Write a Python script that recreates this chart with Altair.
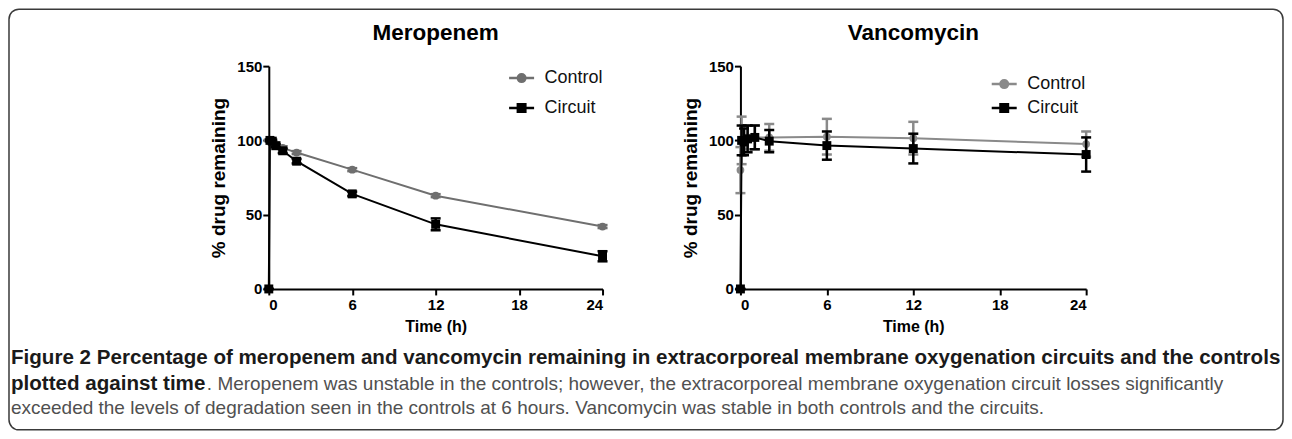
import altair as alt
import pandas as pd

# ---------------- data ----------------
SERIES = ["Control", "Circuit"]
X_TICKS = [0, 6, 12, 18, 24]
Y_TICKS = [0, 50, 100, 150]

mero_ctrl_t = [0, 0.5, 1, 2, 6, 12, 24]
mero_ctrl_v = [100, 97.5, 95, 91.8, 80.3, 62.8, 42]
mero_ctrl_e = [0.5, 1, 1, 1, 1, 1, 1]

mero_circ_t = [0, 0.083, 0.25, 0.5, 1, 2, 6, 12, 24]
mero_circ_v = [0, 100, 99.5, 96.4, 93, 86, 64, 43.5, 22]
mero_circ_e = [0, 0.5, 1, 1, 1.5, 1.5, 1.5, 4, 3.4]

vanc_ctrl_t = [0, 0.083, 0.25, 0.5, 1, 2, 6, 12, 24]
vanc_ctrl_v = [80, 100, 101, 102, 102, 102, 102.5, 101.5, 97.5]
vanc_ctrl_e = [15.5, 16, 9, 8, 8, 9, 12, 11, 8.5]

vanc_circ_t = [0, 0.083, 0.25, 0.5, 1, 2, 6, 12, 24]
vanc_circ_v = [0, 100, 99, 101, 102, 99.5, 96.5, 94.5, 90.5]
vanc_circ_e = [0, 10, 9, 9, 8, 7.5, 9.5, 10, 11.5]

CAP1 = ("Figure 2 Percentage of meropenem and vancomycin remaining in extracorporeal "
        "membrane oxygenation circuits and the controls")
CAP2B = "plotted against time"
CAP2 = (". Meropenem was unstable in the controls; however, the extracorporeal membrane "
        "oxygenation circuit losses significantly")
CAP3 = ("exceeded the levels of degradation seen in the controls at 6 hours. Vancomycin "
        "was stable in both controls and the circuits.")

# ---------------- styling ----------------
FONT = "Liberation Sans"
CAP_FONT = "Liberation Sans"
CIRCLE_PATH = "M-1,0H1M-0.3,0A0.3,0.3 0 1,1 0.3,0A0.3,0.3 0 1,1 -0.3,0Z"
SQUARE_PATH = "M-1,0H1M-0.3,-0.3H0.3V0.3H-0.3Z"
PLOT_H = 223


def series_df(t, v, e, name):
    return pd.DataFrame({
        "t": t, "v": v,
        "lo": [a - b for a, b in zip(v, e)],
        "hi": [a + b for a, b in zip(v, e)],
        "series": name,
    })


def xenc():
    return alt.X("t:Q", scale=alt.Scale(domain=[0, 24], nice=False, zero=False),
                 axis=alt.Axis(values=X_TICKS, title="Time (h)", format="d"))


def yenc(field):
    return alt.Y(field, scale=alt.Scale(domain=[0, 150], nice=False),
                 axis=alt.Axis(values=Y_TICKS, title="% drug remaining", format="d"))


def series_layers(df, color, shape, size):
    rule = alt.Chart(df).mark_rule(color=color, strokeWidth=2.5).encode(
        x=xenc(), y=yenc("lo:Q"), y2="hi:Q")
    cap_hi = alt.Chart(df).mark_tick(orient="horizontal", color=color, size=10,
                                     thickness=2.5, opacity=1).encode(x=xenc(), y=yenc("hi:Q"))
    cap_lo = alt.Chart(df).mark_tick(orient="horizontal", color=color, size=10,
                                     thickness=2.5, opacity=1).encode(x=xenc(), y=yenc("lo:Q"))
    line = alt.Chart(df).mark_line(color=color, strokeWidth=2).encode(
        x=xenc(), y=yenc("v:Q"), order="t:Q")
    pts = alt.Chart(df).mark_point(shape=shape, filled=True, size=size, color=color,
                                   opacity=1).encode(x=xenc(), y=yenc("v:Q"))
    return [rule, cap_hi, cap_lo, line, pts]


def legend_layer(ctrl_color, lx, ly, row_pad):
    leg_df = pd.DataFrame({"series": SERIES, "t": [-1, -1], "v": [0, 0]})
    leg = alt.Legend(title=None, orient="none", legendX=lx, legendY=ly, padding=0,
                     symbolSize=625, symbolStrokeWidth=2.5, labelFont=FONT,
                     labelFontSize=18, labelColor="#111111", labelOffset=9,
                     rowPadding=row_pad)
    return alt.Chart(leg_df).transform_filter("datum.t >= 0").mark_point(
        filled=True, opacity=1, strokeWidth=2.5).encode(
        fill=alt.Fill("series:N", scale=alt.Scale(domain=SERIES, range=[ctrl_color, "#000000"]), legend=leg),
        stroke=alt.Stroke("series:N", scale=alt.Scale(domain=SERIES, range=[ctrl_color, "#000000"]), legend=leg),
        shape=alt.Shape("series:N", scale=alt.Scale(domain=SERIES, range=[CIRCLE_PATH, SQUARE_PATH]), legend=leg),
    )


def panel(title, ctrl, circ, ctrl_color, lx, ly, row_pad, width):
    layers = []
    layers += series_layers(ctrl, ctrl_color, "circle", 60)
    layers += series_layers(circ, "#000000", "square", 80)
    layers.append(legend_layer(ctrl_color, lx, ly, row_pad))
    return alt.layer(*layers).properties(
        width=width, height=PLOT_H,
        title=alt.TitleParams(title, font=FONT, fontSize=22.5, fontWeight="bold",
                              color="#000000", anchor="middle", offset=15),
    ).resolve_scale(fill="independent", stroke="independent", shape="independent")


# ---------------- caption + frame (decoration column) ----------------
cap_df = pd.DataFrame({"k": [0]})


def cap_text(txt, x, y, bold, color, size):
    return alt.Chart(cap_df).mark_text(
        align="left", baseline="middle", font=CAP_FONT, fontSize=size,
        fontWeight="bold" if bold else "normal", color=color).encode(
        x=alt.value(x), y=alt.value(y), text=alt.value(txt))


border = alt.Chart(cap_df).mark_rect(filled=False, color="#3a3a3a", strokeWidth=1.5,
                                     cornerRadius=10).encode(
    x=alt.value(0), x2=alt.value(1275), y=alt.value(-57), y2=alt.value(364))

deco = alt.layer(
    border,
    cap_text(CAP1, 2, 292, True, "#1a1a1a", 20.6),
    cap_text(CAP2B, 2, 318, True, "#1a1a1a", 20.6),
    cap_text(CAP2, 198, 318, False, "#505050", 19.0),
    cap_text(CAP3, 2, 342, False, "#505050", 19.0),
).properties(width=122, height=PLOT_H)

left = panel("Meropenem",
             series_df(mero_ctrl_t, mero_ctrl_v, mero_ctrl_e, "Control"),
             series_df(mero_circ_t, mero_circ_v, mero_circ_e, "Circuit"),
             "#6f6f6f", 239, -2, 7, 334)

right = panel("Vancomycin",
              series_df(vanc_ctrl_t, vanc_ctrl_v, vanc_ctrl_e, "Control"),
              series_df(vanc_circ_t, vanc_circ_v, vanc_circ_e, "Circuit"),
              "#8a8a8a", 250, 4, 1, 346)

chart = alt.hconcat(deco, left, right, spacing=138, bounds="flush").resolve_scale(
    x="independent", y="independent", fill="independent", stroke="independent",
    shape="independent").resolve_legend(
    fill="independent", stroke="independent", shape="independent").properties(
    padding={"left": 0, "top": 0, "right": 0, "bottom": 0}
).configure_view(strokeWidth=0).configure_axis(
    domainColor="#000000", domainWidth=2, tickColor="#000000", tickWidth=2, tickSize=6,
    labelFont=FONT, labelFontSize=15, labelFontWeight="bold", labelColor="#000000",
    labelPadding=1, titleFont=FONT, titleFontSize=16, titleFontWeight="bold",
    titleColor="#000000", grid=False,
).configure_axisY(titlePadding=8, titleFontSize=19).configure_axisX(titlePadding=6, labelPadding=3)

chart.save("out.html", embed_options={"renderer": "svg", "actions": False})
